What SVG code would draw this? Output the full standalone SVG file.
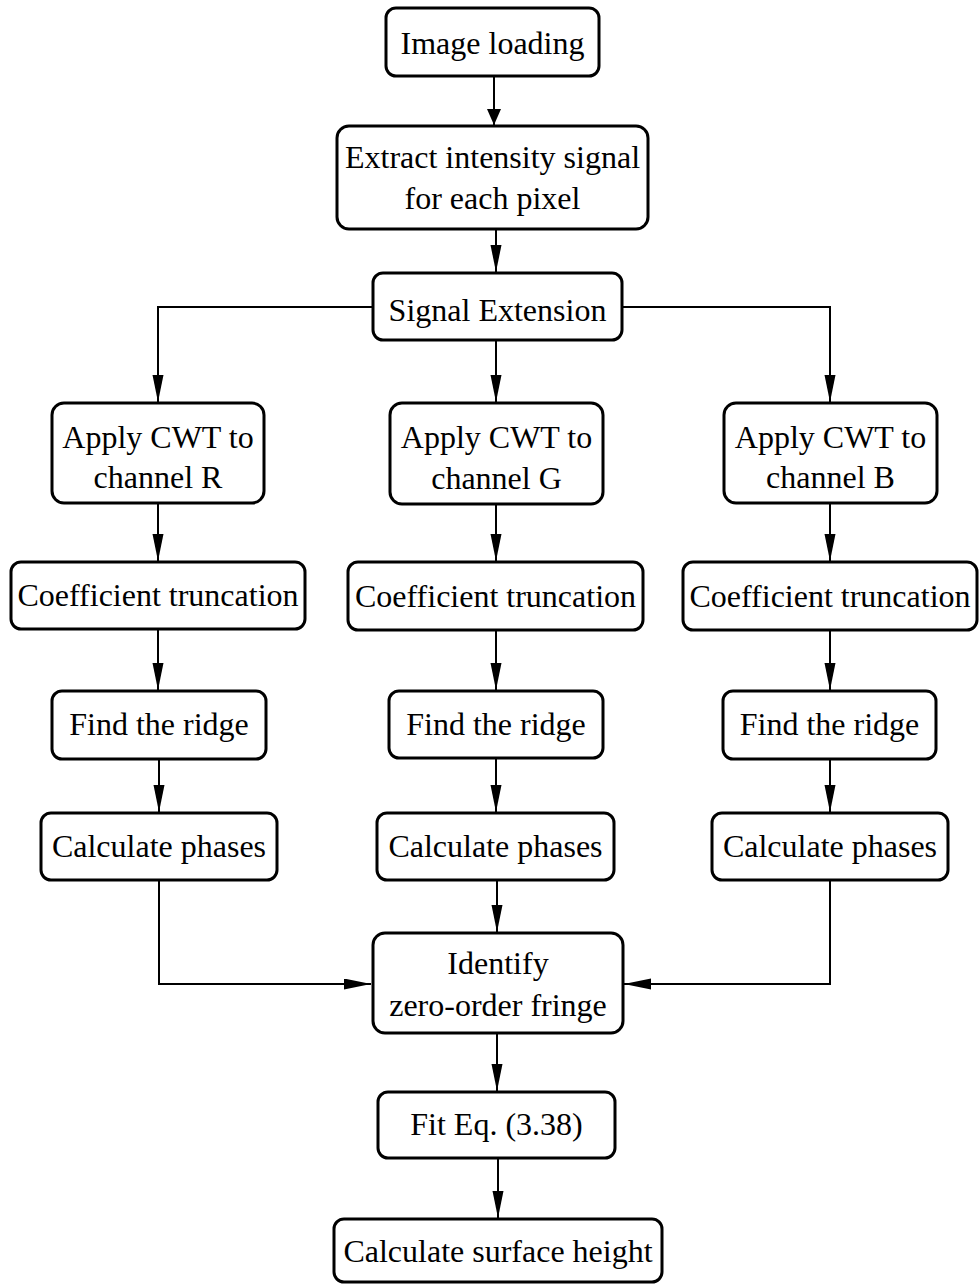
<svg xmlns="http://www.w3.org/2000/svg" width="980" height="1284" viewBox="0 0 980 1284">
<style>
.box{fill:#fff;stroke:#000;stroke-width:3}
.t{font-family:"Liberation Serif","Times New Roman",serif;font-size:32px;fill:#000;text-anchor:middle}
.c{fill:none;stroke:#000;stroke-width:2}
</style>
<defs>
<marker id="ah" markerUnits="userSpaceOnUse" markerWidth="28" markerHeight="12" refX="27" refY="5.5" orient="auto">
<path d="M0,0 L27,5.5 L0,11 z" fill="#000"/>
</marker>
<marker id="ah1" markerUnits="userSpaceOnUse" markerWidth="18" markerHeight="15" refX="16" refY="7" orient="auto">
<path d="M0,0 L16,7 L0,14 z" fill="#000"/>
</marker>
</defs>
<rect width="980" height="1284" fill="#fff"/>
<g id="connectors">
<path class="c" d="M494,76 V125" marker-end="url(#ah1)"/>
<path class="c" d="M496,229 V272" marker-end="url(#ah)"/>
<path class="c" d="M373,307 H158 V402" marker-end="url(#ah)"/>
<path class="c" d="M622,307 H830 V402" marker-end="url(#ah)"/>
<path class="c" d="M496,340 V402" marker-end="url(#ah)"/>
<path class="c" d="M158,503 V561" marker-end="url(#ah)"/>
<path class="c" d="M496,504 V561" marker-end="url(#ah)"/>
<path class="c" d="M830,503 V561" marker-end="url(#ah)"/>
<path class="c" d="M158,629 V690" marker-end="url(#ah)"/>
<path class="c" d="M496,630 V690" marker-end="url(#ah)"/>
<path class="c" d="M830,630 V690" marker-end="url(#ah)"/>
<path class="c" d="M159,759 V812" marker-end="url(#ah)"/>
<path class="c" d="M496,758 V812" marker-end="url(#ah)"/>
<path class="c" d="M830,759 V812" marker-end="url(#ah)"/>
<path class="c" d="M159,880 V984 H371" marker-end="url(#ah)"/>
<path class="c" d="M830,880 V984 H624" marker-end="url(#ah)"/>
<path class="c" d="M497,880 V932" marker-end="url(#ah)"/>
<path class="c" d="M497,1033 V1091" marker-end="url(#ah)"/>
<path class="c" d="M498,1158 V1218" marker-end="url(#ah)"/>
</g>
<g id="n1"><rect class="box" x="386" y="8" width="213" height="68" rx="10"/><text class="t" x="492.5" y="54">Image loading</text></g>
<g id="n2"><rect class="box" x="337" y="126" width="311" height="103" rx="12"/><text class="t" x="492.5" y="168">Extract intensity signal</text><text class="t" x="492.5" y="209">for each pixel</text></g>
<g id="n3"><rect class="box" x="373" y="273" width="249" height="67" rx="10"/><text class="t" x="497.5" y="321">Signal Extension</text></g>
<g id="n4r"><rect class="box" x="52" y="403" width="212" height="100" rx="12"/><text class="t" x="158" y="448">Apply CWT to</text><text class="t" x="158" y="488">channel R</text></g>
<g id="n4g"><rect class="box" x="390" y="403" width="213" height="101" rx="12"/><text class="t" x="496.5" y="448">Apply CWT to</text><text class="t" x="496.5" y="489">channel G</text></g>
<g id="n4b"><rect class="box" x="724" y="403" width="213" height="100" rx="12"/><text class="t" x="830.5" y="448">Apply CWT to</text><text class="t" x="830.5" y="488">channel B</text></g>
<g id="n5r"><rect class="box" x="11" y="562" width="294" height="67" rx="10"/><text class="t" x="158" y="606">Coefficient truncation</text></g>
<g id="n5g"><rect class="box" x="348" y="562" width="295" height="68" rx="10"/><text class="t" x="495.5" y="607">Coefficient truncation</text></g>
<g id="n5b"><rect class="box" x="683" y="562" width="294" height="68" rx="10"/><text class="t" x="830" y="607">Coefficient truncation</text></g>
<g id="n6r"><rect class="box" x="52" y="691" width="214" height="68" rx="10"/><text class="t" x="159" y="735">Find the ridge</text></g>
<g id="n6g"><rect class="box" x="389" y="691" width="214" height="67" rx="10"/><text class="t" x="496" y="735">Find the ridge</text></g>
<g id="n6b"><rect class="box" x="723" y="691" width="213" height="68" rx="10"/><text class="t" x="829.5" y="735">Find the ridge</text></g>
<g id="n7r"><rect class="box" x="41" y="813" width="236" height="67" rx="10"/><text class="t" x="159" y="857">Calculate phases</text></g>
<g id="n7g"><rect class="box" x="377" y="813" width="237" height="67" rx="10"/><text class="t" x="495.5" y="857">Calculate phases</text></g>
<g id="n7b"><rect class="box" x="712" y="813" width="236" height="67" rx="10"/><text class="t" x="830" y="857">Calculate phases</text></g>
<g id="n8"><rect class="box" x="373" y="933" width="250" height="100" rx="12"/><text class="t" x="498" y="974">Identify</text><text class="t" x="498" y="1016">zero-order fringe</text></g>
<g id="n9"><rect class="box" x="378" y="1092" width="237" height="66" rx="10"/><text class="t" x="496.5" y="1135">Fit Eq. (3.38)</text></g>
<g id="n10"><rect class="box" x="334" y="1219" width="328" height="63" rx="10"/><text class="t" x="498" y="1262">Calculate surface height</text></g>
</svg>
